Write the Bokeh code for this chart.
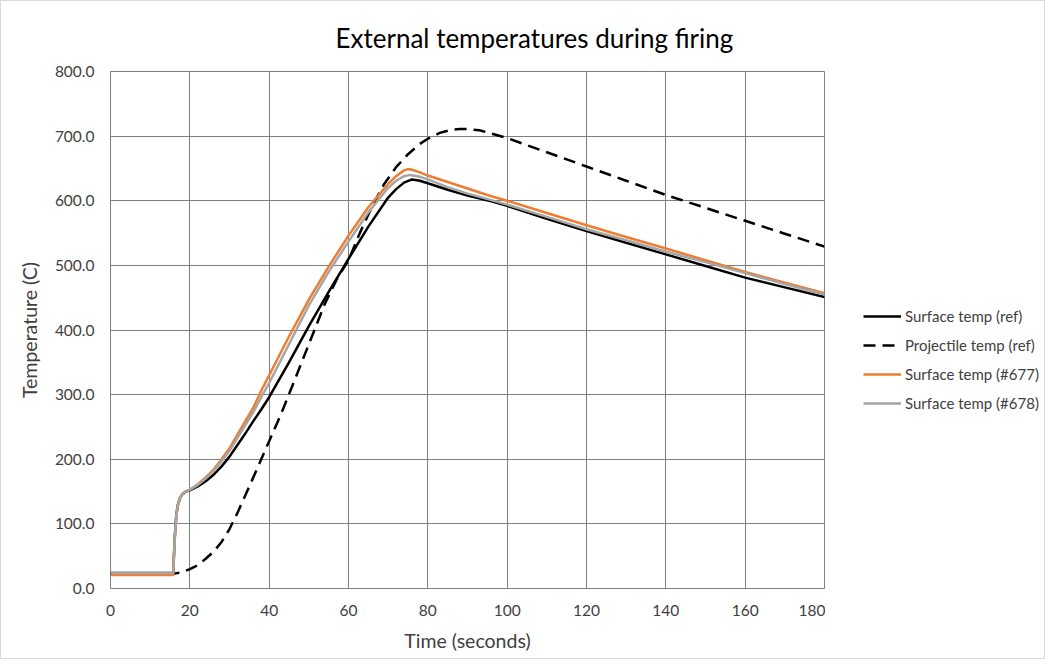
from bokeh.plotting import figure
from bokeh.layouts import row
from bokeh.models import Range1d, FixedTicker, NumeralTickFormatter, Legend, LegendItem, Title
from bokeh.embed import file_html
from bokeh.resources import INLINE

# ---- data ----
t_ref = [0, 15.8, 16.2, 16.6, 17, 17.5, 18, 19, 20, 22, 24, 26, 28, 30, 32, 34, 36, 38, 40, 45, 50, 55, 60,
         65, 70, 72, 74, 76, 78, 80, 85, 90, 96, 100, 110, 120, 130, 140, 150, 160, 170, 180]
surf_ref = [24, 24, 80, 115, 130, 140, 145, 150, 152, 158, 166, 176, 189, 204, 222, 240, 259, 277, 296, 350, 406, 459, 510,
            560, 605, 618, 628, 633, 631, 627, 617, 608, 599, 592, 572, 553, 535, 517, 499, 481, 466, 451]

t_proj = [0, 16, 18, 20, 22, 24, 26, 28, 30, 32, 35, 38, 40, 43, 46, 50, 54, 57, 60, 63, 66, 69,
          72, 75, 78, 80, 83, 86, 88, 90, 93, 96, 100, 105, 110, 120, 130, 140, 150, 160, 170, 180]
proj_ref = [23, 23, 25, 30, 36, 46, 57, 72, 92, 117, 158, 200, 228, 270, 316, 378, 440, 478, 508, 552, 592, 626,
            652, 672, 688, 696, 705, 710, 711, 711, 709, 704, 697, 686, 675, 653, 631, 609, 589, 569, 549, 529]

t_677 = [0, 15.8, 16.2, 16.6, 17, 17.5, 18, 19, 20, 22, 24, 26, 28, 30, 32, 34, 36, 38, 40, 45, 50, 55, 60,
         65, 70, 72, 74, 75, 76, 78, 80, 85, 90, 96, 100, 110, 120, 130, 140, 150, 160, 170, 180]
surf_677 = [21, 21, 75, 112, 128, 139, 145, 150, 153, 161, 172, 184, 200, 217, 238, 259, 280, 306, 330, 390, 447, 498, 546,
            590, 626, 638, 647, 649, 648, 644, 639, 629, 619, 607, 600, 581, 562, 544, 526, 508, 490, 473, 457]

t_678 = [0, 15.8, 16.2, 16.6, 17, 17.5, 18, 19, 20, 22, 24, 26, 28, 30, 32, 34, 36, 38, 40, 45, 50, 55, 60,
         65, 70, 72, 74, 75.5, 78, 80, 85, 90, 96, 100, 110, 120, 130, 140, 150, 160, 170, 180]
surf_678 = [24, 24, 78, 114, 129, 140, 145, 150, 153, 160, 170, 182, 197, 213, 233, 253, 273, 296, 318, 378, 438, 490, 537,
            582, 620, 631, 638, 640, 637, 633, 621, 611, 601, 594, 575, 556, 539, 521, 505, 488, 471, 455]

x_ticks = [0, 20, 40, 60, 80, 100, 120, 140, 160, 180]
y_ticks = [0, 100, 200, 300, 400, 500, 600, 700, 800]
labels = ["Surface temp (ref)", "Projectile temp (ref)", "Surface temp (#677)", "Surface temp (#678)"]
title_text = "External temperatures during firing"

FONT = "Lato"
TXT = "#404040"
styles = [dict(line_color="#000000", line_width=2.5),
          dict(line_color="#000000", line_width=2.5, line_dash="12 7"),
          dict(line_color="#ED7D31", line_width=2.5),
          dict(line_color="#A5A5A5", line_width=2.5)]

H = 657
p = figure(width=824, height=H, output_backend="svg", toolbar_location=None,
           x_range=Range1d(0, 180), y_range=Range1d(0, 800),
           min_border_left=109, min_border_right=1, min_border_top=70, min_border_bottom=70)

p.outline_line_color = "#7f7f7f"
p.outline_line_width = 1

for ax in (p.xaxis[0], p.yaxis[0]):
    ax.axis_line_color = None
    ax.major_tick_line_color = None
    ax.minor_tick_line_color = None
    ax.major_label_text_font = FONT
    ax.major_label_text_font_size = "15.5px"
    ax.major_label_text_color = TXT
    ax.axis_label_text_font = FONT
    ax.axis_label_text_font_size = "19.5px"
    ax.axis_label_text_font_style = "normal"
    ax.axis_label_text_color = TXT

p.xaxis.ticker = FixedTicker(ticks=x_ticks)
p.yaxis.ticker = FixedTicker(ticks=y_ticks)
p.yaxis.formatter = NumeralTickFormatter(format="0.0")
p.xaxis.axis_label = "Time (seconds)"
p.yaxis.axis_label = "Temperature (C)"
p.xaxis.major_label_standoff = 10
p.yaxis.major_label_standoff = 10
p.xaxis.axis_label_standoff = 10
p.yaxis.axis_label_standoff = 11

p.xgrid.grid_line_color = "#7f7f7f"
p.ygrid.grid_line_color = "#7f7f7f"

series = [(t_ref, surf_ref), (t_proj, proj_ref), (t_677, surf_677), (t_678, surf_678)]
for (tx, ty), st in zip(series, styles):
    p.line(tx, ty, line_join="round", **st)

title = Title(text=title_text, align="left", offset=225, standoff=35,
              text_font=FONT, text_font_size="26px", text_font_style="normal", text_color="#000000")
p.add_layout(title, "above")

# legend panel (separate, unclipped area to the right of the plot)
q = figure(width=219, height=H, output_backend="svg", toolbar_location=None,
           x_range=Range1d(0, 1), y_range=Range1d(0, 1), x_axis_type=None, y_axis_type=None,
           min_border=0)
q.outline_line_color = None
q.xgrid.visible = False
q.ygrid.visible = False
nan = float("nan")
dummies = [q.line([nan], [nan], **st) for st in styles]

legend = Legend(items=[LegendItem(label=lab, renderers=[rr]) for lab, rr in zip(labels, dummies)],
                location=(38, 175), padding=0, margin=0, spacing=9,
                glyph_width=38, glyph_height=20, label_height=20, label_standoff=4,
                label_text_font=FONT, label_text_font_size="15px", label_text_color=TXT,
                border_line_color=None, background_fill_alpha=0)
q.add_layout(legend)

layout = row(p, q)
layout.styles = {"border": "1px solid #d9d9d9"}

open("out.html", "w").write(file_html(layout, INLINE))
